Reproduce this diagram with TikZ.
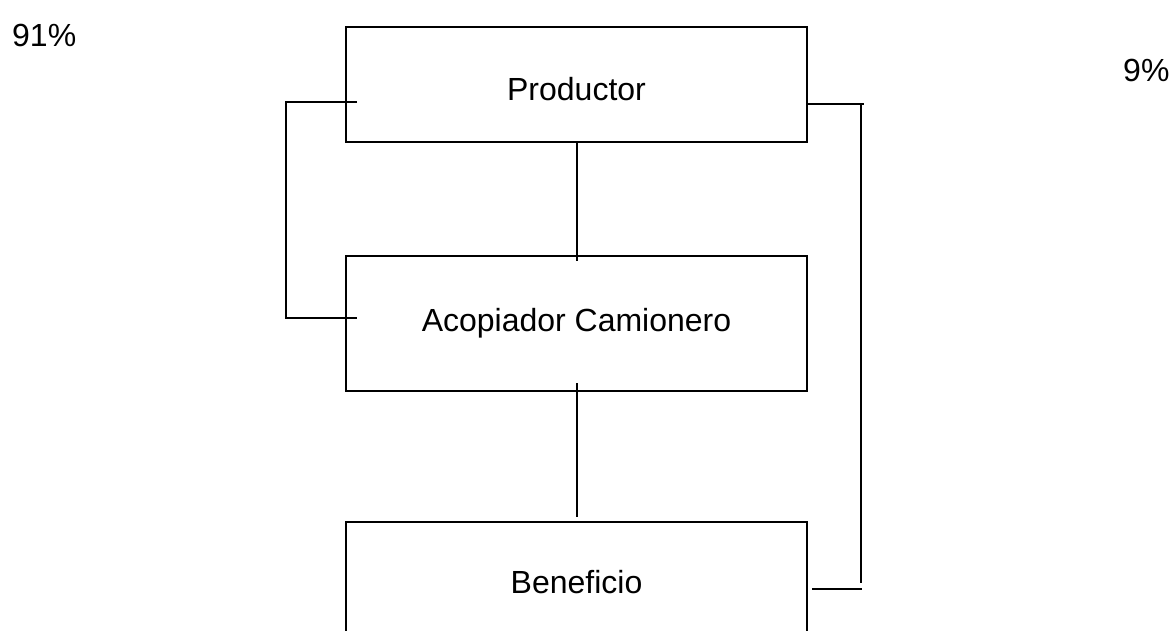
\documentclass[tikz,border=0pt]{standalone}
\usepackage{fontspec}
\setmainfont{Liberation Sans}
\begin{document}
\begin{tikzpicture}[x=1pt,y=-1pt,
  box/.style={draw,line width=2pt,minimum width=461pt,inner sep=0pt,font=\fontsize{32}{38}\selectfont},
  conn/.style={line width=2pt},
  pct/.style={font=\fontsize{32}{38}\selectfont,inner sep=0pt}]
\useasboundingbox (0,0) rectangle (1175,631);
\clip (0,0) rectangle (1175,631);
\fill[white] (0,0) rectangle (1175,631);
\node[box,minimum height=115pt,text height=33pt] (prod) at (576.5,84.5) {Productor};
\node[box,minimum height=135pt] (acop) at (576.5,323.5) {Acopiador Camionero};
\node[box,minimum height=120pt] (benef) at (576.5,582) {Beneficio};
\node[pct,anchor=west] (p91) at (12,35) {91\%};
\node[pct,anchor=west] (p9) at (1123,70) {9\%};
% left loop
\coordinate (l1) at (357,102);
\coordinate (l2) at (357,318);
\draw[conn] (l1) -- (286,102) -- (286,318) -- (l2);
% centre lines
\coordinate (c0) at (577,142);
\coordinate (c1) at (577,261);
\coordinate (c2a) at (577,383);
\coordinate (c2b) at (577,517);
\draw[conn] (c0) -- (c1);
\draw[conn] (c2a) -- (c2b);
% right loop
\coordinate (r1) at (864,104);
\coordinate (r2) at (861,104);
\coordinate (r3) at (861,583);
\coordinate (r4) at (812,589);
\coordinate (r5) at (862,589);
\draw[conn] (prod.east |- r1) -- (r1);
\draw[conn] (r2) -- (r3);
\draw[conn] (r4) -- (r5);
\end{tikzpicture}
\end{document}
